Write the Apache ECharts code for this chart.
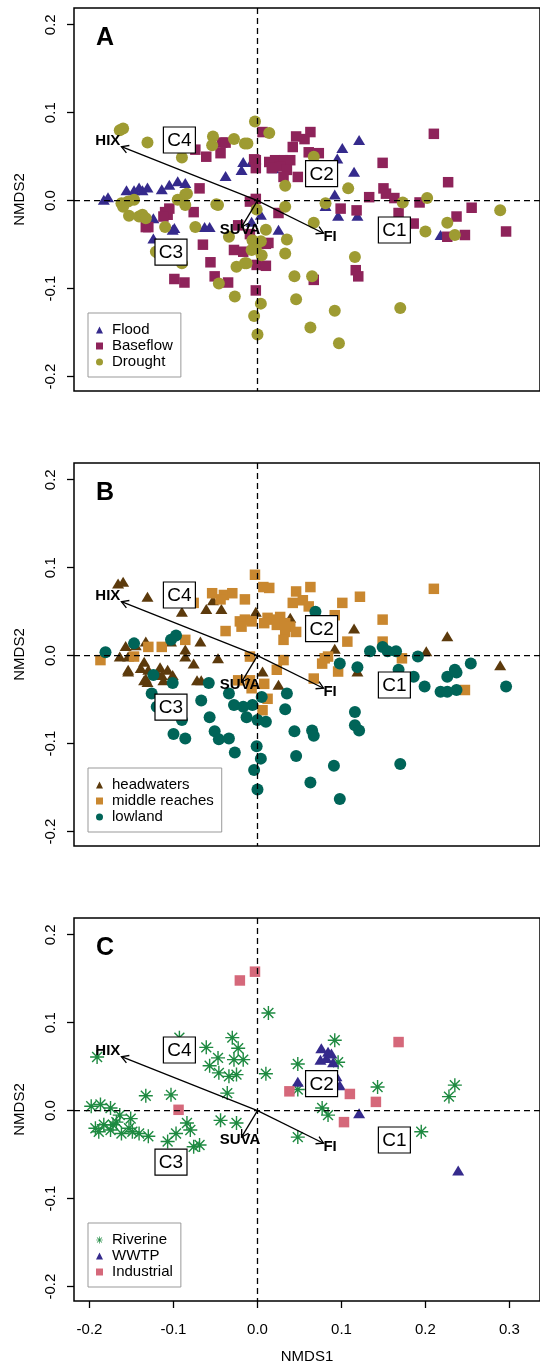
<!DOCTYPE html>
<html><head><meta charset="utf-8">
<script src="https://cdn.jsdelivr.net/npm/echarts/dist/echarts.min.js"></script>
<style>html,body{margin:0;padding:0;background:#fff}#c{width:540px;height:1366px}</style>
</head><body><div id="c"></div>
<script>
// ---------- data ----------
const xTicks = [-0.2, -0.1, 0, 0.1, 0.2, 0.3];
const yTicks = [-0.2, -0.1, 0, 0.1, 0.2];
const panelLetters = ['A', 'B', 'C'];

// Panel A (season)
const flood = [[-0.183,0.001],[-0.178,0.004],[-0.156,0.012],[-0.147,0.012],[-0.141,0.015],[-0.137,0.012],[-0.131,0.015],[-0.114,0.013],[-0.105,0.018],[-0.095,0.022],[-0.086,0.020],[-0.038,0.028],[-0.017,0.044],[-0.007,0.044],[-0.019,0.035],[-0.124,-0.020],[-0.124,-0.043],[-0.099,-0.031],[-0.063,-0.030],[-0.057,-0.030],[0.004,-0.016],[0.025,-0.033],[-0.007,-0.024],[-0.101,-0.033],[0.121,0.069],[0.101,0.060],[0.095,0.048],[0.115,0.033],[0.092,0.007],[0.081,-0.006],[0.096,-0.017],[0.119,-0.017],[0.218,-0.039],[0.019,0.037]];
const baseflow = [[-0.042,0.066],[-0.038,0.066],[-0.061,0.050],[-0.044,0.054],[-0.074,0.058],[-0.002,0.046],[-0.069,0.014],[-0.105,-0.009],[-0.107,-0.016],[-0.110,-0.013],[-0.112,-0.018],[-0.133,-0.030],[-0.130,-0.030],[-0.076,-0.013],[-0.065,-0.050],[-0.056,-0.070],[-0.099,-0.089],[-0.087,-0.093],[-0.035,-0.093],[-0.028,-0.056],[-0.017,-0.058],[-0.009,-0.001],[-0.002,0.002],[-0.002,-0.102],[-0.051,-0.086],[-0.001,-0.073],[0.010,-0.074],[0.013,-0.048],[-0.023,-0.028],[-0.009,-0.038],[0.025,-0.014],[0.006,0.078],[0.063,0.078],[0.056,0.070],[0.046,0.073],[0.042,0.061],[0.061,0.055],[0.073,0.054],[0.014,0.044],[0.021,0.046],[0.031,0.046],[0.039,0.046],[0.027,0.039],[0.035,0.035],[0.048,0.027],[0.031,0.027],[0.017,0.037],[-0.004,0.047],[-0.002,0.037],[0.149,0.043],[0.210,0.076],[0.227,0.021],[0.150,0.014],[0.153,0.008],[0.163,0.003],[0.133,0.004],[0.193,-0.002],[0.099,-0.009],[0.118,-0.011],[0.168,-0.014],[0.186,-0.026],[0.255,-0.008],[0.237,-0.018],[0.247,-0.039],[0.226,-0.041],[0.296,-0.035],[0.117,-0.079],[0.120,-0.086],[0.067,-0.090],[0.010,-0.049]];
const drought = [[-0.164,0.080],[-0.160,0.082],[-0.131,0.066],[-0.090,0.049],[-0.053,0.073],[-0.054,0.063],[-0.028,0.070],[-0.015,0.065],[-0.003,0.090],[-0.162,-0.003],[-0.154,-0.001],[-0.147,0.001],[-0.160,-0.007],[-0.153,-0.017],[-0.141,-0.018],[-0.137,-0.016],[-0.133,-0.020],[-0.110,-0.030],[-0.095,0.001],[-0.086,0.007],[-0.086,-0.005],[-0.074,-0.030],[-0.047,-0.005],[-0.034,-0.041],[-0.013,-0.071],[-0.025,-0.075],[-0.046,-0.094],[-0.027,-0.109],[-0.090,-0.071],[-0.118,-0.060],[-0.006,-0.045],[-0.002,-0.054],[-0.084,0.008],[-0.049,-0.004],[0.033,-0.007],[-0.001,-0.010],[0.010,-0.033],[0.004,-0.046],[0.035,-0.044],[-0.007,-0.056],[0.005,-0.062],[0.033,-0.060],[-0.015,-0.071],[0.004,-0.117],[-0.004,-0.131],[0.000,-0.152],[0.044,-0.086],[0.046,-0.112],[-0.121,-0.058],[0.014,0.077],[-0.012,0.065],[0.067,0.050],[0.033,0.017],[0.108,0.014],[0.067,-0.025],[0.065,-0.086],[0.092,-0.125],[0.063,-0.144],[0.097,-0.162],[0.170,-0.122],[0.116,-0.064],[0.081,-0.003],[0.173,-0.002],[0.202,0.003],[0.200,-0.035],[0.226,-0.025],[0.235,-0.039],[0.289,-0.011]];

// Panel B (region)
const headwaters = [[-0.166,0.082],[-0.160,0.084],[-0.131,0.067],[-0.090,0.050],[-0.061,0.053],[-0.043,0.053],[-0.053,0.063],[-0.002,0.050],[0.039,0.043],[0.115,0.031],[0.226,0.022],[0.092,0.008],[0.201,0.005],[0.289,-0.011],[0.119,-0.018],[0.006,-0.018],[0.025,-0.033],[-0.157,0.011],[-0.145,0.012],[-0.133,0.016],[-0.103,0.016],[-0.086,0.007],[-0.068,0.016],[-0.047,-0.003],[-0.164,-0.001],[-0.154,-0.001],[-0.135,-0.007],[-0.139,-0.014],[-0.154,-0.016],[-0.130,-0.016],[-0.116,-0.013],[-0.107,-0.016],[-0.114,-0.022],[-0.101,-0.022],[-0.076,-0.009],[-0.086,-0.001],[-0.072,-0.028],[-0.067,-0.028],[-0.133,-0.026],[-0.112,-0.028],[-0.154,-0.018],[-0.135,-0.028],[-0.131,-0.030],[-0.118,-0.022]];
const middleReaches = [[-0.003,0.092],[0.007,0.078],[0.014,0.077],[-0.054,0.071],[-0.040,0.069],[-0.030,0.071],[-0.015,0.064],[-0.044,0.064],[-0.076,0.060],[0.046,0.073],[0.063,0.078],[0.054,0.063],[0.042,0.060],[0.061,0.056],[0.101,0.060],[0.122,0.067],[0.210,0.076],[0.149,0.041],[0.092,0.046],[-0.015,0.041],[-0.007,0.039],[0.012,0.043],[0.019,0.041],[0.027,0.044],[0.023,0.035],[0.033,0.037],[0.008,0.037],[0.039,0.033],[0.033,0.027],[0.031,0.018],[0.046,0.027],[-0.021,0.039],[-0.019,0.033],[-0.038,0.028],[-0.086,0.018],[-0.114,0.010],[-0.130,0.010],[-0.187,-0.005],[-0.147,-0.001],[0.107,0.016],[0.149,0.016],[0.172,-0.003],[0.080,-0.003],[0.084,-0.001],[0.077,-0.009],[0.096,-0.018],[0.031,-0.005],[0.023,-0.016],[0.067,-0.026],[-0.009,-0.001],[0.247,-0.039],[-0.023,-0.028],[-0.009,-0.028],[0.008,-0.032],[0.012,-0.049],[0.006,-0.062],[-0.007,-0.037]];
const lowland = [[-0.181,0.004],[-0.097,0.023],[0.069,0.050],[0.134,0.005],[0.149,0.010],[0.155,0.005],[0.165,0.005],[0.191,-0.001],[0.254,-0.009],[0.098,-0.009],[0.119,-0.013],[0.168,-0.016],[0.186,-0.024],[0.199,-0.035],[0.226,-0.024],[0.235,-0.016],[0.218,-0.041],[0.226,-0.041],[0.237,-0.039],[0.296,-0.035],[-0.103,0.018],[-0.147,0.014],[-0.124,-0.022],[-0.126,-0.043],[-0.120,-0.058],[-0.101,-0.031],[-0.090,-0.073],[-0.100,-0.089],[-0.086,-0.094],[-0.067,-0.051],[-0.058,-0.031],[-0.057,-0.070],[-0.051,-0.086],[-0.046,-0.095],[-0.034,-0.094],[-0.027,-0.110],[-0.034,-0.043],[-0.028,-0.056],[-0.017,-0.058],[-0.006,-0.056],[-0.013,-0.070],[0.000,-0.073],[0.010,-0.075],[0.005,-0.047],[-0.001,-0.103],[0.004,-0.117],[-0.004,-0.130],[0.000,-0.152],[0.035,-0.043],[0.033,-0.061],[0.044,-0.086],[0.046,-0.114],[0.065,-0.085],[0.067,-0.091],[0.063,-0.144],[0.091,-0.125],[0.098,-0.163],[0.116,-0.064],[0.116,-0.079],[0.121,-0.085],[0.170,-0.123],[0.237,-0.019]];

// Panel C (source)
const riverine = [[0.013,0.111],[-0.191,0.061],[-0.030,0.083],[-0.023,0.071],[-0.061,0.072],[-0.047,0.060],[-0.057,0.051],[-0.028,0.058],[-0.017,0.058],[-0.046,0.043],[-0.034,0.039],[-0.025,0.041],[-0.036,0.020],[-0.093,0.083],[0.010,0.042],[-0.133,0.017],[-0.103,0.018],[-0.198,0.005],[-0.187,0.007],[-0.175,0.003],[-0.164,-0.005],[-0.151,-0.009],[-0.193,-0.020],[-0.183,-0.016],[-0.172,-0.016],[-0.168,-0.013],[-0.162,-0.026],[-0.153,-0.020],[-0.141,-0.026],[-0.130,-0.029],[-0.189,-0.024],[-0.175,-0.022],[-0.149,-0.024],[-0.097,-0.026],[-0.084,-0.014],[-0.080,-0.022],[-0.107,-0.035],[-0.076,-0.041],[-0.069,-0.039],[-0.044,-0.011],[-0.025,-0.014],[0.048,0.053],[0.048,0.024],[0.092,0.080],[0.096,0.055],[0.077,0.003],[0.084,-0.005],[0.048,-0.030],[0.143,0.027],[0.195,-0.024],[0.235,0.029],[0.228,0.016]];
const wwtp = [[0.076,0.071],[0.084,0.067],[0.075,0.058],[0.082,0.060],[0.090,0.055],[0.088,0.065],[0.094,0.039],[0.098,0.029],[0.048,0.033],[0.121,-0.003],[0.239,-0.068]];
const industrial = [[-0.003,0.158],[-0.021,0.148],[0.168,0.078],[0.038,0.022],[0.110,0.019],[0.141,0.010],[0.103,-0.013],[-0.094,0.001]];

// Fitted vectors and cluster labels
const arrowNames = ['HIX', 'FI', 'SUVA'];
const arrowX = [-0.162, 0.0786, -0.019];
const arrowY = [0.0614, -0.037, -0.030];
const clusterNames = ['C1', 'C2', 'C3', 'C4'];
const clusterX = [0.163, 0.0763, -0.103, -0.093];
const clusterY = [-0.0333, 0.0307, -0.0585, 0.069];

// ---------- chart ----------
const FONT = '"Liberation Sans", Arial, sans-serif';
const X_MIN = -0.2185, X_MAX = 0.3364, Y_MIN = -0.2163, Y_MAX = 0.219;
const STEP = 455;
const ASTER = 'path://M-1,-0.1L1,-0.1L1,0.1L-1,0.1Z M-0.1,-1L0.1,-1L0.1,1L-0.1,1Z M-0.636,-0.778L0.778,0.636L0.636,0.778L-0.778,-0.636Z M-0.778,0.636L0.636,-0.778L0.778,-0.636L-0.636,0.778Z';

const panels = [
  [
    {name:'Flood', data:flood, symbol:'triangle', size:[12,10], color:'#352a8c', icon:'triangle'},
    {name:'Baseflow', data:baseflow, symbol:'rect', size:10.5, color:'#8e235a', icon:'rect'},
    {name:'Drought', data:drought, symbol:'circle', size:12, color:'#9e9b32', icon:'circle'}
  ],
  [
    {name:'headwaters', data:headwaters, symbol:'triangle', size:[12,10], color:'#5c3a0c', icon:'triangle'},
    {name:'middle reaches', data:middleReaches, symbol:'rect', size:10.5, color:'#c9872f', icon:'rect'},
    {name:'lowland', data:lowland, symbol:'circle', size:12, color:'#006458', icon:'circle'}
  ],
  [
    {name:'Riverine', data:riverine, symbol:ASTER, size:14, color:'#1e8a41', icon:ASTER},
    {name:'WWTP', data:wwtp, symbol:'triangle', size:[12,10], color:'#352a8c', icon:'triangle'},
    {name:'Industrial', data:industrial, symbol:'rect', size:10.5, color:'#d5687a', icon:'rect'}
  ]
];

const grids = [], xAxes = [], yAxes = [], series = [], legends = [], titles = [];
const axisFont = {fontSize:15, fontFamily:FONT, color:'#000'};

for (let i = 0; i < 3; i++) {
  const off = STEP * i;
  const bottom = i === 2;
  grids.push({left:74, top:8 + off, width:480, height:383, show:true, borderColor:'#000', borderWidth:1.5, backgroundColor:'transparent'});
  xAxes.push({
    type:'value', gridIndex:i, min:X_MIN, max:X_MAX, position:'bottom',
    axisLine:{show:false, onZero:false}, splitLine:{show:false},
    axisTick:{show:bottom, customValues:xTicks, length:7, lineStyle:{color:'#000', width:1.3}},
    axisLabel:Object.assign({show:bottom, customValues:xTicks, formatter:v=>v.toFixed(1), margin:21}, axisFont),
    name: bottom ? 'NMDS1' : '', nameLocation:'middle', nameGap:48, nameTextStyle:axisFont
  });
  yAxes.push({
    type:'value', gridIndex:i, min:Y_MIN, max:Y_MAX, position:'left',
    axisLine:{show:false, onZero:false}, splitLine:{show:false},
    axisTick:{show:true, customValues:yTicks, length:7, lineStyle:{color:'#000', width:1.3}},
    axisLabel:Object.assign({customValues:yTicks, formatter:v=>v.toFixed(1), rotate:90, margin:16}, axisFont),
    name:'NMDS2', nameLocation:'middle', nameGap:47, nameTextStyle:axisFont
  });
  titles.push({text:panelLetters[i], left:96, top:26 + off, padding:0,
    textStyle:{fontSize:25, fontWeight:'bold', fontFamily:FONT, color:'#000'}});

  panels[i].forEach(g => {
    series.push({
      type:'scatter', name:g.name, xAxisIndex:i, yAxisIndex:i, data:g.data,
      symbol:g.symbol, symbolSize:g.size, z:2, silent:true,
      itemStyle:{color:g.color, opacity:1}
    });
  });

  legends.push({
    orient:'vertical', left:88, top:313 + off, padding:[9,8,7,8], itemGap:0,
    itemWidth:7, itemHeight:7, borderColor:'#999', borderWidth:1, borderRadius:0,
    backgroundColor:'#fff', selectedMode:false, z:10,
    textStyle:{fontSize:15, fontFamily:FONT, color:'#000', lineHeight:16, padding:[0,0,0,4]},
    data: panels[i].map(g => ({name:g.name, icon:g.icon, itemStyle:{color:g.color}}))
  });

  // dashed zero lines
  series.push({
    type:'custom', xAxisIndex:i, yAxisIndex:i, z:3, silent:true, clip:false, data:[[0,0]],
    renderItem:(params, api) => {
      const c = api.coord([api.value(0), api.value(1)]);
      const cs = params.coordSys;
      const st = {stroke:'#000', lineWidth:1.3, lineDash:[6,4]};
      return {type:'group', children:[
        {type:'line', shape:{x1:c[0], y1:cs.y, x2:c[0], y2:cs.y + cs.height}, style:st},
        {type:'line', shape:{x1:cs.x, y1:c[1], x2:cs.x + cs.width, y2:c[1]}, style:st}
      ]};
    }
  });

  // vectors
  series.push({
    type:'custom', xAxisIndex:i, yAxisIndex:i, z:4, silent:true, clip:false,
    data: arrowX.map((x, k) => [x, arrowY[k], k]),
    renderItem:(params, api) => {
      const x = api.value(0), y = api.value(1), k = api.value(2);
      const o = api.coord([0, 0]), p = api.coord([x, y]), t = api.coord([x * 1.1, y * 1.1]);
      const ang = Math.atan2(p[1] - o[1], p[0] - o[0]);
      const L = 8, h = Math.PI / 6;
      return {type:'group', children:[
        {type:'line', shape:{x1:o[0], y1:o[1], x2:p[0], y2:p[1]}, style:{stroke:'#000', lineWidth:1.3}},
        {type:'polyline', shape:{points:[
          [p[0] - L * Math.cos(ang - h), p[1] - L * Math.sin(ang - h)], p,
          [p[0] - L * Math.cos(ang + h), p[1] - L * Math.sin(ang + h)]]},
          style:{stroke:'#000', fill:null, lineWidth:1.3}},
        {type:'text', x:t[0], y:t[1], style:{text:arrowNames[k], font:'bold 15px ' + FONT, fill:'#000', align:'center', verticalAlign:'middle'}}
      ]};
    }
  });

  // cluster label boxes
  series.push({
    type:'custom', xAxisIndex:i, yAxisIndex:i, z:5, silent:true, clip:false,
    data: clusterX.map((x, k) => [x, clusterY[k], k]),
    renderItem:(params, api) => {
      const c = api.coord([api.value(0), api.value(1)]);
      const k = api.value(2);
      return {type:'group', children:[
        {type:'rect', shape:{x:c[0] - 16, y:c[1] - 13, width:32, height:26}, style:{fill:'#fff', stroke:'#000', lineWidth:1.2}},
        {type:'text', x:c[0], y:c[1] + 1, style:{text:clusterNames[k], font:'19px ' + FONT, fill:'#000', align:'center', verticalAlign:'middle'}}
      ]};
    }
  });
}

const chart = echarts.init(document.getElementById('c'), null, {renderer:'canvas'});
chart.setOption({
  animation:false,
  backgroundColor:'#fff',
  title:titles, grid:grids, xAxis:xAxes, yAxis:yAxes, legend:legends, series:series
});
</script>
</body></html>
